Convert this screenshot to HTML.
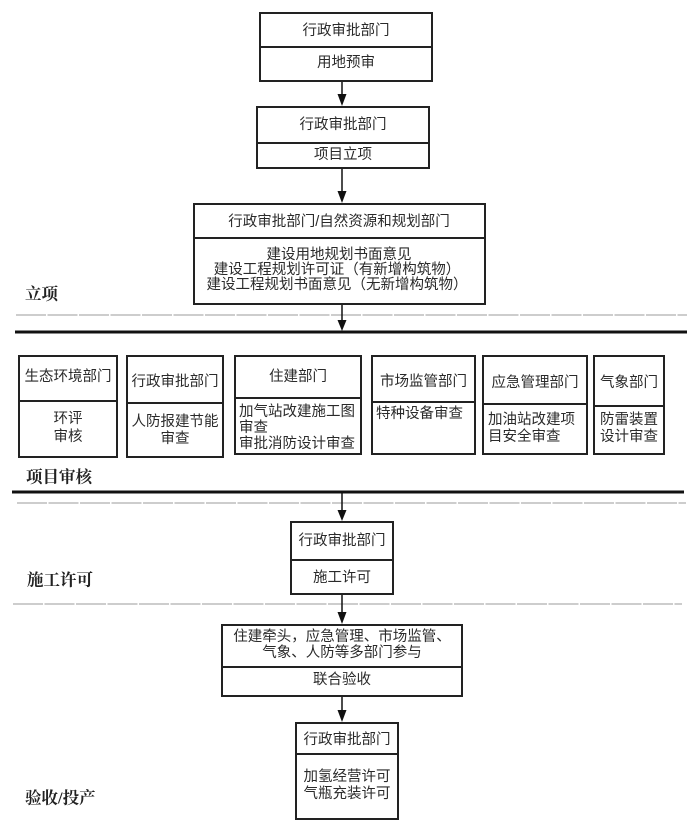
<!DOCTYPE html>
<html>
<head>
<meta charset="utf-8">
<style>
html,body{margin:0;padding:0;background:#fff;}
svg{display:block;}
.t{font-family:"Liberation Sans","Noto Sans CJK SC",sans-serif;font-size:14.5px;fill:#2a2a2a;dominant-baseline:central;}
.c{text-anchor:middle;}
.l{text-anchor:start;}
.s{font-family:"Liberation Serif","Noto Serif CJK SC",serif;font-size:16.5px;font-weight:bold;fill:#222;dominant-baseline:central;}
.b{fill:#fff;stroke:#222;stroke-width:2;}
.d{stroke:#222;stroke-width:2;}
.g{stroke:#cdcdcd;stroke-width:2;stroke-dasharray:30 1.5;}
.k{stroke:#111;stroke-width:3;}
.a{stroke:#111;stroke-width:1.5;}
</style>
</head>
<body>
<svg width="700" height="829" viewBox="0 0 700 829" xmlns="http://www.w3.org/2000/svg">

<!-- Box 1 -->
<rect class="b" x="260" y="13" width="172" height="68"/>
<line class="d" x1="260" y1="47" x2="432" y2="47"/>
<text class="t c" x="346" y="31">行政审批部门</text>
<text class="t c" x="346" y="63">用地预审</text>

<!-- arrow 1 -->
<line class="a" x1="342" y1="82" x2="342" y2="95"/>
<path d="M337.5,94 L346.5,94 L342,106 Z" fill="#111"/>

<!-- Box 2 -->
<rect class="b" x="257" y="107" width="172" height="61"/>
<line class="d" x1="257" y1="143" x2="429" y2="143"/>
<text class="t c" x="343" y="125">行政审批部门</text>
<text class="t c" x="343" y="155">项目立项</text>

<!-- arrow 2 -->
<line class="a" x1="342" y1="169" x2="342" y2="192"/>
<path d="M337.5,191 L346.5,191 L342,203 Z" fill="#111"/>

<!-- Box 3 -->
<rect class="b" x="194" y="204" width="291" height="100"/>
<line class="d" x1="194" y1="238" x2="485" y2="238"/>
<text class="t c" x="339" y="222">行政审批部门/自然资源和规划部门</text>
<text class="t c" x="339" y="255">建设用地规划书面意见</text>
<text class="t c" x="337" y="270">建设工程规划许可证（有新增构筑物）</text>
<text class="t c" x="337" y="285">建设工程规划书面意见（无新增构筑物）</text>

<!-- section 立项 -->
<text class="s" x="25" y="294">立项</text>
<line class="g" x1="16" y1="315" x2="687" y2="315"/>
<line class="k" x1="15" y1="332" x2="687" y2="332"/>

<!-- arrow 3 -->
<line class="a" x1="342" y1="305" x2="342" y2="321"/>
<path d="M337.5,320 L346.5,320 L342,331 Z" fill="#111"/>

<!-- Row boxes -->
<rect class="b" x="19" y="356" width="98" height="101"/>
<line class="d" x1="19" y1="401" x2="117" y2="401"/>
<text class="t c" x="68" y="377">生态环境部门</text>
<text class="t c" x="68" y="419">环评</text>
<text class="t c" x="68" y="437">审核</text>

<rect class="b" x="127" y="356" width="96" height="101"/>
<line class="d" x1="127" y1="403" x2="223" y2="403"/>
<text class="t c" x="175" y="382">行政审批部门</text>
<text class="t c" x="175" y="422">人防报建节能</text>
<text class="t c" x="175" y="439">审查</text>

<rect class="b" x="235" y="356" width="126" height="98"/>
<line class="d" x1="235" y1="398" x2="361" y2="398"/>
<text class="t c" x="298" y="377">住建部门</text>
<text class="t l" x="239" y="412">加气站改建施工图</text>
<text class="t l" x="239" y="428">审查</text>
<text class="t l" x="239" y="444">审批消防设计审查</text>

<rect class="b" x="372" y="356" width="103" height="98"/>
<line class="d" x1="372" y1="402" x2="475" y2="402"/>
<text class="t c" x="423.5" y="382">市场监管部门</text>
<text class="t l" x="376" y="414">特种设备审查</text>

<rect class="b" x="483" y="356" width="104" height="98"/>
<line class="d" x1="483" y1="404" x2="587" y2="404"/>
<text class="t c" x="535" y="383">应急管理部门</text>
<text class="t l" x="488" y="420">加油站改建项</text>
<text class="t l" x="488" y="437">目安全审查</text>

<rect class="b" x="594" y="356" width="70" height="98"/>
<line class="d" x1="594" y1="406" x2="664" y2="406"/>
<text class="t c" x="629" y="383">气象部门</text>
<text class="t l" x="600" y="420">防雷装置</text>
<text class="t l" x="600" y="437">设计审查</text>

<!-- section 项目审核 -->
<text class="s" x="26" y="477">项目审核</text>
<line class="k" x1="12" y1="492" x2="684" y2="492"/>
<line class="g" x1="17" y1="503" x2="686" y2="503"/>

<!-- arrow 4 -->
<line class="a" x1="342" y1="493" x2="342" y2="511"/>
<path d="M337.5,510 L346.5,510 L342,521 Z" fill="#111"/>

<!-- Box 施工许可 -->
<rect class="b" x="291" y="522" width="102" height="72"/>
<line class="d" x1="291" y1="560" x2="393" y2="560"/>
<text class="t c" x="342" y="541">行政审批部门</text>
<text class="t c" x="342" y="578">施工许可</text>

<text class="s" x="27" y="580">施工许可</text>
<line class="g" x1="13" y1="604" x2="682" y2="604"/>

<!-- arrow 5 -->
<line class="a" x1="342" y1="595" x2="342" y2="613"/>
<path d="M337.5,612 L346.5,612 L342,624 Z" fill="#111"/>

<!-- Box 联合验收 -->
<rect class="b" x="222" y="625" width="240" height="71"/>
<line class="d" x1="222" y1="667" x2="462" y2="667"/>
<text class="t c" x="342" y="637">住建牵头，应急管理、市场监管、</text>
<text class="t c" x="342" y="653">气象、人防等多部门参与</text>
<text class="t c" x="342" y="680">联合验收</text>

<!-- arrow 6 -->
<line class="a" x1="342" y1="697" x2="342" y2="711"/>
<path d="M337.5,710 L346.5,710 L342,722 Z" fill="#111"/>

<!-- Final box -->
<rect class="b" x="296" y="723" width="102" height="96"/>
<line class="d" x1="296" y1="754" x2="398" y2="754"/>
<text class="t c" x="347" y="740">行政审批部门</text>
<text class="t c" x="347" y="777">加氢经营许可</text>
<text class="t c" x="347" y="794">气瓶充装许可</text>

<text class="s" x="25" y="798">验收/投产</text>
</svg>
</body>
</html>
